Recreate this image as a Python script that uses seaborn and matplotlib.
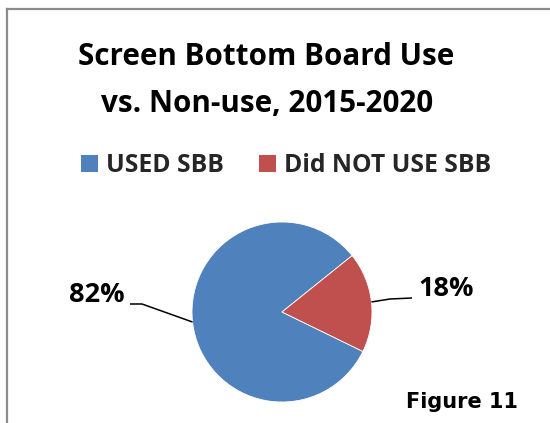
import numpy as np
import matplotlib
matplotlib.use("Agg")
import matplotlib.pyplot as plt
import seaborn as sns

categories = ["USED SBB", "Did NOT USE SBB"]
values = [82, 18]
pct_labels = ["82%", "18%"]
colors = ["#4F81BD", "#C0504D"]
title_lines = ["Screen Bottom Board Use", "vs. Non-use, 2015-2020"]
figure_note = "Figure 11"

sns.set_theme(style="white")
plt.rcParams["font.family"] = ["Open Sans", "DejaVu Sans"]

W, H = 550, 423
fig = plt.figure(figsize=(W / 100, H / 100), dpi=100)
fig.patch.set_facecolor("white")
ax = fig.add_axes([0, 0, 1, 1])

def py(y):  # pixel row -> data y
    return H - y

cx, cy, r = 282, py(312), 90
wedges, _ = ax.pie(values, colors=colors, startangle=-26, counterclock=False,
                   center=(cx, cy), radius=r, frame=True,
                   wedgeprops=dict(edgecolor="white", linewidth=0.6))
ax.set_xlim(0, W)
ax.set_ylim(0, H)
ax.set_aspect("equal")
ax.axis("off")

# leader lines from wedge midpoints
mids = [np.deg2rad((w.theta1 + w.theta2) / 2) for w in wedges]
ex = [cx + r * np.cos(m) for m in mids]
ey = [cy + r * np.sin(m) for m in mids]
ax.plot([ex[0], 142, 130], [ey[0], py(304), py(304)], color="black", lw=1.1,
        solid_capstyle="butt")
ax.plot([ex[1], 390, 412], [ey[1], py(299), py(298)], color="black", lw=1.1,
        solid_capstyle="butt")
ax.text(125, py(295), pct_labels[0], ha="right", va="center",
        fontsize=19.5, fontweight="bold", color="black")
ax.text(418, py(289), pct_labels[1], ha="left", va="center",
        fontsize=19.5, fontweight="bold", color="black")

# title
ax.text(266, py(65), title_lines[0], ha="center", va="baseline",
        fontsize=21.3, fontweight="bold", color="black")
ax.text(267, py(112), title_lines[1], ha="center", va="baseline",
        fontsize=21.3, fontweight="bold", color="black")

# legend
leg = fig.legend(wedges, categories, ncol=2, loc="center",
                 bbox_to_anchor=(286 / W, (H - 166) / H), frameon=False,
                 prop=dict(family="Open Sans", weight="bold", size=17.8),
                 handlelength=0.68, handleheight=0.68, handletextpad=0.32,
                 columnspacing=1.45, borderpad=0)
for h in leg.legend_handles:
    h.set_edgecolor("none")

# figure note
ax.text(406, py(408), figure_note, ha="left", va="baseline",
        fontsize=15, fontweight="bold", family="DejaVu Sans", color="black")

# frame
ax.plot([7, 7], [py(9), 0], color="#8c8c8c", lw=1.6, clip_on=False,
        solid_capstyle="projecting")
ax.plot([7, W], [py(9), py(9)], color="#8c8c8c", lw=1.6, clip_on=False,
        solid_capstyle="projecting")

fig.savefig("out.png", dpi=100, facecolor="white")
